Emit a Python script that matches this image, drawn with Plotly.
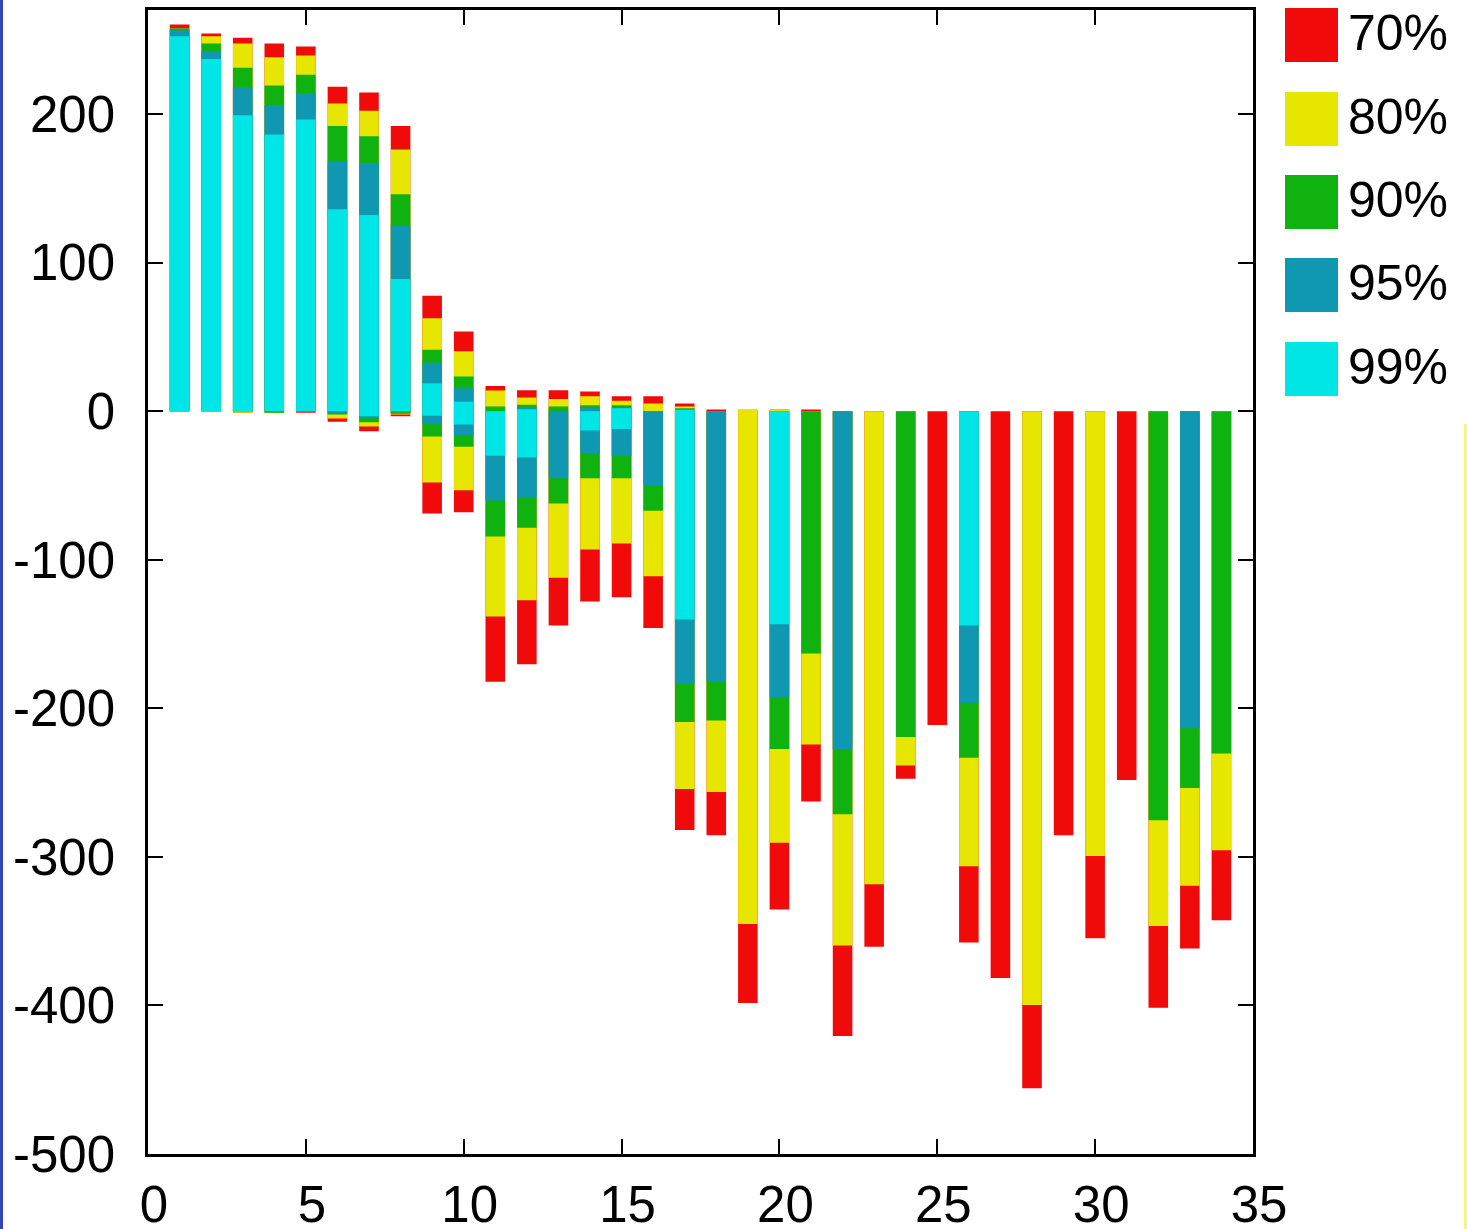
import plotly.graph_objects as go

# ---------------- data ----------------
x = list(range(1, 35))

# upper end of each percentile band (positive side)
pos70 = [260.2, 254.1, 251.3, 247.4, 245.4, 218.3, 214.4, 192.0, 77.7, 53.6,
         17.0, 14.1, 14.1, 13.2, 10.1, 10.1, 5.2, 1.1, 1.0, 1.1,
         1.1, 0, 0, 0, 0, 0, 0, 0, 0, 0, 0, 0, 0, 0]
pos80 = [257.6, 252.4, 247.4, 238.2, 239.3, 207.0, 202.2, 176.1, 62.6, 40.3,
         13.9, 9.2, 8.1, 10.1, 7.0, 5.2, 3.1, 0, 1.0, 1.1,
         0, 0, 0, 0, 0, 0, 0, 0, 0, 0, 0, 0, 0, 0]
pos90 = [257.6, 247.4, 231.2, 219.2, 226.4, 192.0, 185.0, 146.0, 41.4, 23.3,
         3.1, 4.3, 3.1, 4.0, 4.0, 0, 2.0, 0, 0, 0,
         0, 0, 0, 0, 0, 0, 0, 0, 0, 0, 0, 0, 0, 0]
pos95 = [256.4, 242.3, 218.0, 206.1, 214.2, 168.2, 167.1, 125.0, 32.6, 15.4,
         0, 2.7, 0, 2.7, 2.2, 0, 0.9, 0, 0, 0,
         0, 0, 0, 0, 0, 0, 0, 0, 0, 0, 0, 0, 0, 0]
pos99 = [252.4, 237.1, 199.2, 186.2, 196.3, 135.9, 132.1, 89.0, 18.7, 6.4,
         0, 1.3, 0, 0, 2.0, 0, 0.9, 0, 0, 0,
         0, 0, 0, 0, 0, 0, 0, 0, 0, 0, 0, 0, 0, 0]

# lower end of each percentile band (negative side)
neg70 = [0, 0, -1.0, -1.0, -1.0, -7.2, -13.5, -3.4, -68.9, -68.0,
         -182.2, -170.3, -144.2, -128.1, -125.2, -146.0, -282.0, -285.4, -398.4, -335.4,
         -262.7, -420.6, -360.5, -247.4, -211.3, -357.6, -381.6, -455.8, -285.4, -354.7,
         -248.3, -401.5, -361.6, -342.6]
neg80 = [0, 0, -1.0, -1.0, 0, -5.0, -10.3, -2.2, -48.0, -53.2,
         -138.2, -127.2, -112.2, -93.1, -89.1, -111.1, -254.4, -256.4, -345.2, -290.5,
         -224.3, -359.6, -318.5, -238.5, 0, -306.4, 0, -399.7, 0, -299.5,
         0, -346.5, -319.4, -295.6]
neg90 = [0, 0, 0, -1.0, 0, -2.2, -7.4, -1.8, -17.1, -24.0,
         -84.4, -78.5, -62.1, -45.1, -45.1, -67.1, -209.3, -208.2, 0, -227.4,
         -163.1, -271.4, 0, -219.3, 0, -233.3, 0, 0, 0, 0,
         0, -275.4, -253.7, -230.4]
neg95 = [0, 0, 0, 0, 0, -1.8, -4.7, -0.5, -8.8, -16.2,
         -60.1, -58.1, -45.1, -28.2, -30.1, -50.2, -183.3, -182.2, 0, -192.5,
         0, -227.4, 0, 0, 0, -196.3, 0, 0, 0, 0,
         0, 0, -213.4, 0]
neg99 = [0, 0, 0, 0, 0, 0, -3.4, 0, -3.1, -9.0,
         -30.1, -31.2, 0, -13.0, -12.1, 0, -140.2, 0, 0, -143.4,
         0, 0, 0, 0, 0, -144.3, 0, 0, 0, 0,
         0, 0, 0, 0]

labels = ["70%", "80%", "90%", "95%", "99%"]
colors = ["#f00a0a", "#e6e600", "#10b210", "#1097b2", "#00e6e6"]

x_ticks = [0, 5, 10, 15, 20, 25, 30, 35]
x_ticktext = ["0", "5", "10", "15", "20", "25", "30", "35"]
y_ticks = [-500, -400, -300, -200, -100, 0, 100, 200]
y_ticktext = ["-500", "-400", "-300", "-200", "-100", "0", "100", "200"]

# ---------------- figure ----------------
W, H = 1467, 1229
ML, MR, MT, MB = 148, 214, 10, 75
PW, PH = W - ML - MR, H - MT - MB
FONT = "Liberation Sans, Arial, Helvetica, sans-serif"


def px2x(px):
    return (px - ML) / PW


def py2y(py):
    return (H - MB - py) / PH


fig = go.Figure()
series = [(pos70, neg70), (pos80, neg80), (pos90, neg90), (pos95, neg95), (pos99, neg99)]
for (pos, neg), lab, col in zip(series, labels, colors):
    fig.add_trace(go.Bar(
        x=x,
        y=[p - n for p, n in zip(pos, neg)],
        base=neg,
        name=lab,
        width=0.62,
        marker=dict(color=col, line=dict(width=0)),
    ))

axis_common = dict(
    ticks="inside", ticklen=15, tickwidth=2, tickcolor="black",
    showline=True, linewidth=2.5, linecolor="black", mirror="ticks",
    showgrid=False, zeroline=False, automargin=False,
    tickfont=dict(family=FONT, size=51, color="black"),
)

fig.update_layout(
    width=W, height=H,
    margin=dict(l=ML, r=MR, t=MT, b=MB, pad=0, autoexpand=False),
    plot_bgcolor="white", paper_bgcolor="white",
    barmode="overlay", showlegend=False,
    xaxis=dict(range=[0, 35], tickmode="array", tickvals=x_ticks, ticktext=x_ticktext,
               ticklabelstandoff=4, ticklabelshift=6, **axis_common),
    yaxis=dict(range=[-500, 270], tickmode="array", tickvals=y_ticks, ticktext=y_ticktext,
               ticklabelstandoff=20, **axis_common),
)

# manual legend (large swatches)
sw_tops = [8, 92, 175, 258, 342]
for top, lab, col in zip(sw_tops, labels, colors):
    fig.add_shape(type="rect", xref="paper", yref="paper",
                  x0=px2x(1285), x1=px2x(1338), y0=py2y(top + 54), y1=py2y(top),
                  fillcolor=col, line=dict(width=0))
    fig.add_annotation(xref="paper", yref="paper", x=px2x(1346), y=py2y(top + 25),
                       text=lab, showarrow=False, xanchor="left", yanchor="middle",
                       font=dict(family=FONT, size=50, color="black"))

# page edge decorations
fig.add_shape(type="rect", xref="paper", yref="paper",
              x0=px2x(0), x1=px2x(3), y0=py2y(H), y1=py2y(0),
              fillcolor="#3344bb", line=dict(width=0))
fig.add_shape(type="rect", xref="paper", yref="paper",
              x0=px2x(1464), x1=px2x(1467), y0=py2y(H), y1=py2y(424),
              fillcolor="#f8f870", line=dict(width=0))

fig.write_html("out.html")
